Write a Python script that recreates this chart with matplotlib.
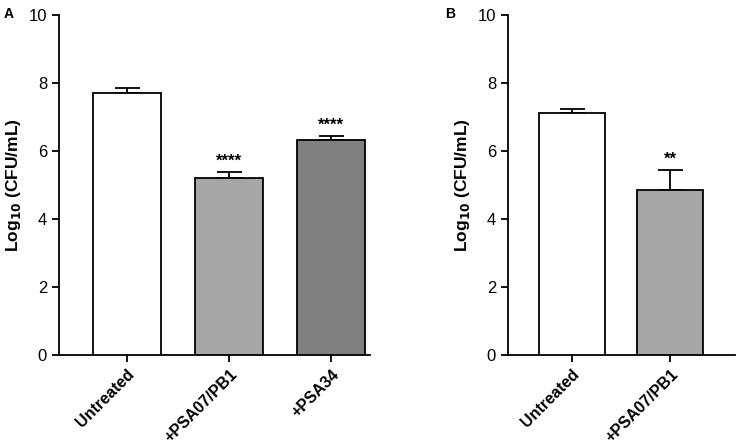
import matplotlib
matplotlib.use("Agg")
import matplotlib.pyplot as plt

plt.rcParams['font.family'] = ['Liberation Sans', 'DejaVu Sans']

# Panel A data
labels_a = ["Untreated", "+PSA07/PB1", "+PSA34"]
means_a = [7.72, 5.20, 6.33]
sem_a = [0.15, 0.19, 0.10]
stars_a = ["", "****", "****"]
colors_a = ["white", "#a6a6a6", "#808080"]

# Panel B data
labels_b = ["Untreated", "+PSA07/PB1"]
means_b = [7.11, 4.87]
sem_b = [0.12, 0.57]
stars_b = ["", "**"]
colors_b = ["white", "#a6a6a6"]

fig = plt.figure(figsize=(7.36, 4.46), dpi=100)
ax_a = fig.add_axes([0.080, 0.204, 0.423, 0.762])
ax_b = fig.add_axes([0.690, 0.204, 0.309, 0.762])


def draw_panel(ax, labels, means, sem, stars, colors, xlim):
    x = range(len(labels))
    ax.bar(x, means, width=0.667, color=colors, edgecolor='black',
           linewidth=1.3, zorder=3)
    ax.errorbar(x, means, yerr=[[0] * len(sem), sem], fmt='none',
                ecolor='black', elinewidth=1.3, capsize=9, capthick=1.3,
                zorder=2)
    for xi, m, s, st in zip(x, means, sem, stars):
        if st:
            ax.text(xi, m + s + 0.1, st, ha='center', va='bottom',
                    fontsize=12, fontweight='bold')
    ax.set_ylim(0, 10)
    ax.set_xlim(*xlim)
    ax.set_yticks([0, 2, 4, 6, 8, 10])
    ax.set_xticks(list(x))
    ax.set_xticklabels(labels, rotation=45, ha='right', rotation_mode='anchor',
                       fontsize=11.5, fontweight='bold')
    ax.tick_params(axis='y', labelsize=12, length=5, width=1.3)
    ax.tick_params(axis='x', length=5, width=1.3)
    for side in ['top', 'right']:
        ax.spines[side].set_visible(False)
    for side in ['left', 'bottom']:
        ax.spines[side].set_linewidth(1.3)
    ax.set_ylabel("Log$_{\\mathbf{10}}$ (CFU/mL)", fontsize=12.5,
                  fontweight='bold', labelpad=4)


draw_panel(ax_a, labels_a, means_a, sem_a, stars_a, colors_a, (-0.667, 2.38))
draw_panel(ax_b, labels_b, means_b, sem_b, stars_b, colors_b, (-0.65, 1.66))

fig.text(0.005, 0.985, "A", fontsize=10, fontweight='bold', va='top')
fig.text(0.605, 0.985, "B", fontsize=10, fontweight='bold', va='top')

fig.savefig("out.png", dpi=100)
